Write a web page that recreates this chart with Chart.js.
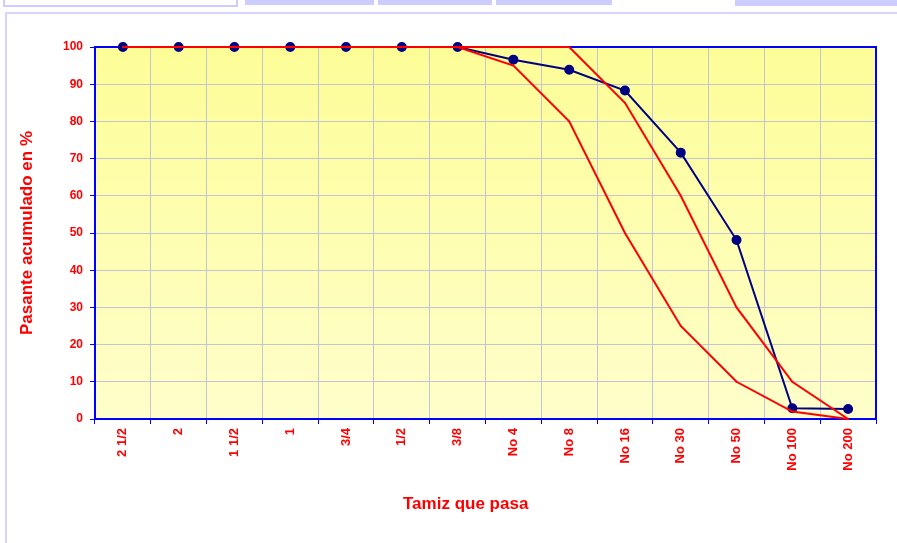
<!DOCTYPE html>
<html lang="es">
<head>
  <meta charset="UTF-8">
  <title>Curva granulométrica</title>
  <script src="https://cdn.jsdelivr.net/npm/chart.js"></script>
  <style>
    * { box-sizing: border-box; margin: 0; padding: 0; }
    body { width: 897px; height: 543px; overflow: hidden; background: #fff; position: relative;
           font-family: 'Liberation Sans', Arial, sans-serif; }
    .tab { position: absolute; top: 0; background: #ccccff; }
    .tab.open { background: #fff; border: 2px solid #ccccff; border-top: none; }
    .frame { position: absolute; left: 5px; top: 12px; width: 900px; height: 600px;
             border: 2px solid #d4d4ff; }
    #wrap { position: absolute; left: 0; top: 0; width: 897px; height: 543px; }
    #xtitle { position: absolute; left: 403px; top: 494px; font-weight: bold; font-size: 17px;
              color: #ff0000; white-space: nowrap; }
  </style>
</head>
<body>
  <div class="tab open" style="left:3px;width:235px;height:7px"></div>
  <div class="tab" style="left:245px;width:129px;height:5px"></div>
  <div class="tab" style="left:378px;width:114px;height:5px"></div>
  <div class="tab" style="left:496px;width:116px;height:5px"></div>
  <div class="tab" style="left:735px;width:162px;height:6px"></div>
  <div class="frame"></div>
  <div id="wrap"><canvas id="chart" width="897" height="543"></canvas></div>
  <div id="xtitle">Tamiz que pasa</div>

  <script>
    // tamices
    const sieves = ['2 1/2', '2', '1 1/2', '1', '3/4', '1/2', '3/8', 'No 4', 'No 8', 'No 16', 'No 30', 'No 50', 'No 100', 'No 200'];
    // % pasante de la muestra
    const sample = [100, 100, 100, 100, 100, 100, 100, 96.6, 93.9, 88.3, 71.6, 48.1, 2.9, 2.7];
    // límites del huso
    const upperLimit = [100, 100, 100, 100, 100, 100, 100, 100, 100, 85, 60, 30, 10, 0];
    const lowerLimit = [100, 100, 100, 100, 100, 100, 100, 95, 80, 50, 25, 10, 2, 0];

    const RED = '#ff0000', BLUE = '#0000ff', NAVY = '#000080', GRID = '#c4c4d4';

    const plotBg = {
      id: 'plotBg',
      beforeDraw(chart) {
        const { ctx, chartArea: a } = chart;
        const g = ctx.createLinearGradient(0, a.top, 0, a.bottom);
        g.addColorStop(0, '#fdfd97');
        g.addColorStop(1, '#fefecb');
        ctx.save();
        ctx.fillStyle = g;
        ctx.fillRect(a.left, a.top, a.right - a.left, a.bottom - a.top);
        ctx.restore();
      },
      beforeDatasetsDraw(chart) {
        const { ctx, chartArea: a } = chart;
        ctx.save();
        ctx.strokeStyle = BLUE;
        ctx.lineWidth = 2;
        ctx.strokeRect(a.left, a.top, a.right - a.left, a.bottom - a.top);
        ctx.restore();
      }
    };

    new Chart(document.getElementById('chart'), {
      type: 'line',
      data: {
        labels: sieves,
        datasets: [
          { label: 'Límite superior', data: upperLimit, borderColor: RED, backgroundColor: RED,
            borderWidth: 2, pointStyle: 'triangle', pointRadius: 1.3, pointBorderWidth: 0, order: 1, clip: false },
          { label: 'Límite inferior', data: lowerLimit, borderColor: RED, backgroundColor: RED,
            borderWidth: 2, pointStyle: 'triangle', pointRadius: 1.3, pointBorderWidth: 0, order: 2, clip: false },
          { label: 'Muestra', data: sample, borderColor: NAVY, backgroundColor: NAVY,
            borderWidth: 2, pointRadius: 4, order: 3, clip: false }
        ]
      },
      options: {
        responsive: false,
        animation: false,
        layout: { padding: { top: 47, right: 21, left: 0, bottom: 0 } },
        plugins: { legend: { display: false }, tooltip: { enabled: false } },
        scales: {
          x: {
            offset: true,
            grid: { offset: true, color: GRID, tickColor: BLUE, tickLength: 5 },
            border: { color: BLUE, width: 2 },
            ticks: { color: RED, font: { family: 'Liberation Sans', weight: 'bold', size: 13 },
                     minRotation: 90, maxRotation: 90, autoSkip: false, padding: 4 },
            afterFit(s) { s.height = 124; }
          },
          y: {
            min: 0, max: 100,
            grid: { color: GRID, tickColor: BLUE, tickLength: 5 },
            border: { color: BLUE, width: 2 },
            ticks: { stepSize: 10, color: RED, padding: 7,
                     font: { family: 'Liberation Sans', weight: 'bold', size: 12 } },
            title: { display: true, text: 'Pasante acumulado en %', color: RED,
                     font: { family: 'Liberation Sans', weight: 'bold', size: 17 },
                     padding: { top: 17, bottom: 0 } },
            afterFit(s) { s.width = 95; }
          }
        }
      },
      plugins: [plotBg]
    });
  </script>
</body>
</html>
